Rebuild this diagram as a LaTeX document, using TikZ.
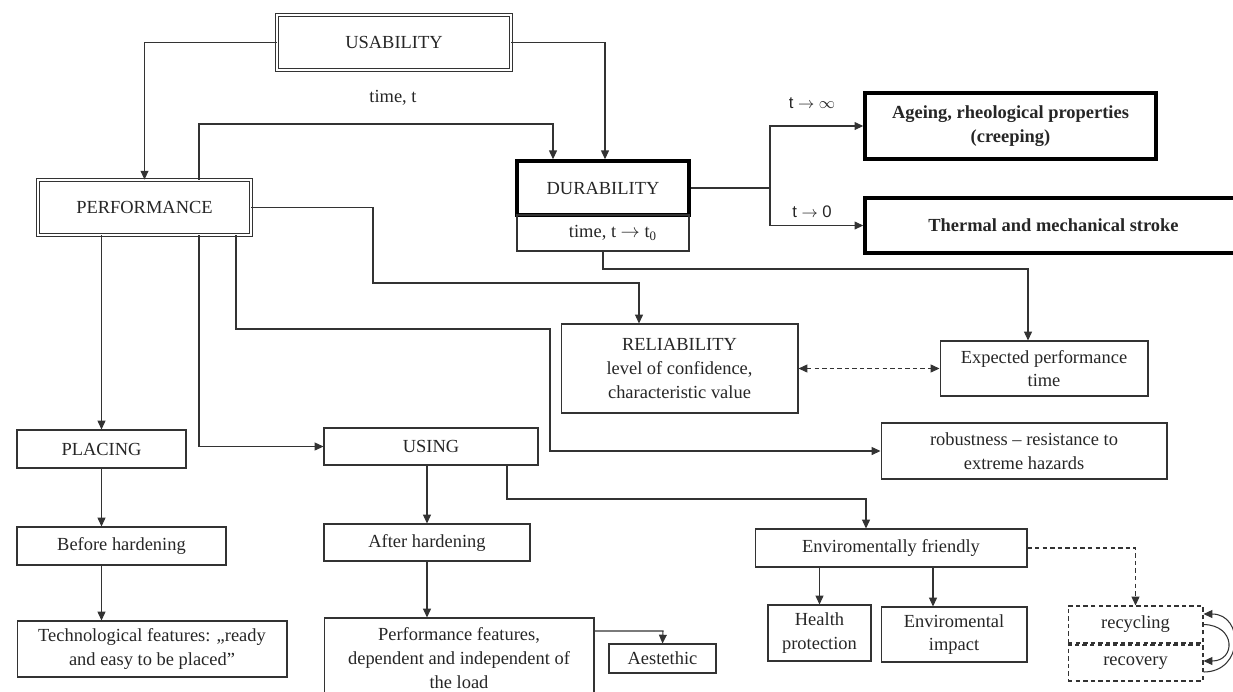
\documentclass[tikz,border=0pt]{standalone}
\usepackage{fontspec}
\setmainfont{Liberation Serif}
\newfontfamily\lsans{Liberation Sans}
\usetikzlibrary{arrows.meta}
\begin{document}
\begin{tikzpicture}[x=0.02cm,y=-0.02cm,
  every node/.style={font=\fontsize{10.5}{13.5}\selectfont, text=black!85},
  box/.style={draw=black!80, line width=0.6pt, inner sep=0pt, align=center},
  dbox/.style={box, double, double distance=1.3pt, line width=0.5pt},
  thickbox/.style={box, draw=black, line width=2pt},
  boldbox/.style={thickbox, font=\fontsize{10.5}{13.5}\selectfont\bfseries},
  dashbox/.style={box, dash pattern=on 2.5pt off 1.8pt},
  conn/.style={draw=black!80, line width=0.6pt},
  arr/.style={conn, -{Triangle[length=5pt,width=4.5pt]}},
  darr/.style={conn, dash pattern=on 2.5pt off 1.8pt, {Triangle[length=5pt,width=4.5pt]}-{Triangle[length=5pt,width=4.5pt]}},
  dsarr/.style={conn, dash pattern=on 2.5pt off 1.8pt, -{Triangle[length=5pt,width=4.5pt]}},
  lbl/.style={inner sep=1pt},
  slbl/.style={inner sep=1pt, font=\lsans\fontsize{9.5}{11}\selectfont},
]
\useasboundingbox (0,0) rectangle (1233,691);

% nodes
\node[dbox, minimum width=4.68cm, minimum height=1.1cm] (usab) at (394,42.5) {USABILITY};
\node[dbox, minimum width=4.26cm, minimum height=1.1cm] (perf) at (144.5,207.5) {PERFORMANCE};
\node[thickbox, minimum width=3.44cm, minimum height=1.08cm] (dur) at (603,188) {DURABILITY};
\node[box, minimum width=3.44cm, minimum height=0.72cm] (tb) at (603,233) {\hspace*{0.4cm}time, t $\rightarrow$ t\textsubscript{0}};
\node[boldbox, minimum width=5.82cm, minimum height=1.32cm] (age) at (1010.5,126) {Ageing, rheological properties\\(creeping)};
\node[boldbox, minimum width=7.6cm, minimum height=1.1cm] (therm) at (1055,225.5) {Thermal and mechanical stroke\hspace*{0.06cm}};
\node[box, minimum width=4.74cm, minimum height=1.78cm] (reli) at (679.5,368.5) {RELIABILITY\\level of confidence,\\characteristic value};
\node[box, minimum width=4.16cm, minimum height=1.1cm] (exp) at (1044,368.5) {Expected performance\\time};
\node[box, minimum width=5.72cm, minimum height=1.12cm] (rob) at (1024,451) {robustness – resistance to\\extreme hazards};
\node[box, minimum width=3.38cm, minimum height=0.76cm] (plac) at (101.5,449) {PLACING};
\node[box, minimum width=4.28cm, minimum height=0.74cm] (using) at (431,446.5) {USING};
\node[box, minimum width=4.18cm, minimum height=0.76cm] (bef) at (121.5,546) {Before hardening};
\node[box, minimum width=5.4cm, minimum height=1.12cm] (tech) at (152,649) {Technological features: „ready\\and easy to be placed”};
\node[box, minimum width=4.12cm, minimum height=0.74cm] (aft) at (427,542.5) {After hardening};
\node[box, minimum width=5.4cm, minimum height=1.6cm] (pf) at (459,658) {Performance features,\\dependent and independent of\\the load};
\node[box, minimum width=2.14cm, minimum height=0.58cm] (aes) at (662.5,658.5) {Aestethic};
\node[box, minimum width=5.44cm, minimum height=0.76cm] (env) at (891,548) {Enviromentally friendly};
\node[box, minimum width=2.06cm, minimum height=1.12cm] (hp) at (819.5,633) {Health\\protection};
\node[box, minimum width=2.92cm, minimum height=1.1cm] (ei) at (954,634.5) {Enviromental\\impact};
\node[dashbox, minimum width=2.7cm, minimum height=0.74cm] (rec) at (1135.5,624.5) {recycling};
\node[dashbox, minimum width=2.7cm, minimum height=0.72cm] (recov) at (1135.5,663) {recovery};

% labels
\node[lbl] (lt) at (393,98) {time, t};
\node[slbl] (linf) at (812,103) {t $\rightarrow\infty$};
\node[slbl] (lzero) at (812,212) {t $\rightarrow$ 0};

% routing points
\coordinate (c1) at (199,124);
\coordinate (c2) at (553,124);
\coordinate (c3) at (373,283);
\coordinate (c4) at (639,283);
\coordinate (c5) at (236,329);
\coordinate (c6) at (550,329);
\coordinate (c7) at (1028,269);
\coordinate (c8) at (770,188);
\coordinate (c9) at (507,499);
\coordinate (c10) at (866,499);
\coordinate (c11) at (663,631);
\coordinate (c12) at (933,567);

% connectors
\draw[arr] (usab.west) -| (perf.north);
\draw[arr] (usab.east) -| ([xshift=0.04cm]dur.north);
\draw[arr] (perf.north -| c1) -- (c1) -- (c2) -- (dur.north -| c2);
\draw[arr] (perf.east) -| (c3) -- (c4) -- (reli.north -| c4);
\draw[arr] (perf.south -| plac.north) -- (plac.north);
\draw[arr] (perf.south -| c1) |- (using.west);
\draw[arr] (perf.south -| c5) -- (c5) -- (c6) |- (rob.west);
\draw[darr] (reli.east) -- (exp.west);
\draw[arr] (tb.south) |- (c7) -- (exp.north -| c7);
\draw[conn] (dur.east) -- (c8);
\draw[arr] (c8) |- (age.west);
\draw[arr] (c8) |- (therm.west);
\draw[arr] (plac.south) -- (plac.south |- bef.north);
\draw[arr] (bef.south -| plac.south) -- (tech.north -| plac.south);
\draw[arr] (aft.north |- using.south) -- (aft.north);
\draw[arr] (aft.south) -- (aft.south |- pf.north);
\draw[arr] (using.south -| c9) -- (c9) -- (c10) -- (env.north -| c10);
\draw[arr] (pf.east |- c11) -- (c11) -- (aes.north);
\draw[arr] (env.south -| hp.north) -- (hp.north);
\draw[arr] (c12) -- (ei.north -| c12);
\draw[dsarr] (env.east) -| (rec.north);
\draw[arr] ([yshift=-0.18cm]recov.east) .. controls (1244,672) and (1244,614) .. ([yshift=0.21cm]rec.east);
\draw[arr] (rec.east) .. controls (1236,625) and (1236,661) .. ([yshift=0.04cm]recov.east);
\end{tikzpicture}
\end{document}
